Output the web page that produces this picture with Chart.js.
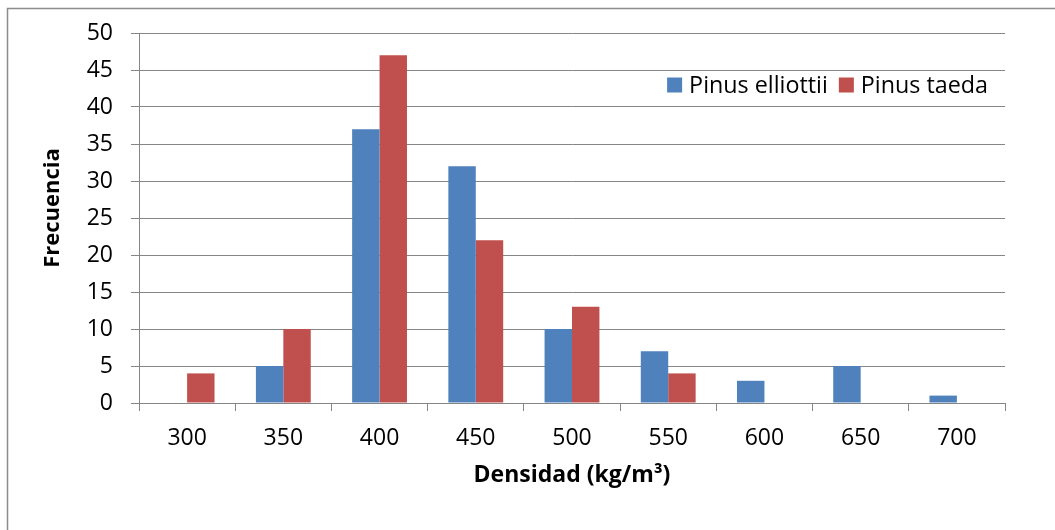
<!DOCTYPE html>
<html>
<head>
<meta charset="utf-8">
<script src="https://cdn.jsdelivr.net/npm/chart.js@4/dist/chart.umd.min.js"></script>
<style>
  html, body { margin: 0; padding: 0; background: #fff; }
  #wrap { position: absolute; left: 0; top: 0; width: 1055px; height: 530px; }
</style>
</head>
<body>
<div id="wrap"><canvas id="c" width="1055" height="530"></canvas></div>
<script>
const categories = ['300', '350', '400', '450', '500', '550', '600', '650', '700'];
const elliottii = [0, 5, 37, 32, 10, 7, 3, 5, 1];
const taeda = [4, 10, 47, 22, 13, 4, 0, 0, 0];
const seriesNames = ['Pinus elliottii', 'Pinus taeda'];
const seriesColors = ['#4F81BD', '#C0504D'];
const yTitle = 'Frecuencia';
const xTitle = 'Densidad (kg/m³)';

const FONT = "'Open Sans', 'Liberation Sans', sans-serif";
const GRID = '#868686';

const frame = {
  id: 'frame',
  beforeDraw(chart) {
    const ctx = chart.ctx;
    ctx.save();
    ctx.fillStyle = '#fff';
    ctx.fillRect(0, 0, chart.width, chart.height);
    ctx.strokeStyle = '#8c8c8c';
    ctx.lineWidth = 1.5;
    ctx.strokeRect(7.5, 8.5, chart.width + 20, chart.height + 20);
    ctx.restore();
  }
};

const yTitlePlugin = {
  id: 'yTitlePlugin',
  afterDraw(chart) {
    const ctx = chart.ctx;
    ctx.save();
    ctx.translate(53, 208);
    ctx.rotate(-Math.PI / 2);
    ctx.font = 'bold 22px ' + FONT;
    ctx.fillStyle = '#000';
    ctx.textAlign = 'center';
    ctx.textBaseline = 'middle';
    ctx.fillText(yTitle, 0, 0);
    ctx.restore();
  }
};

const customLegend = {
  id: 'customLegend',
  afterDraw(chart) {
    const ctx = chart.ctx;
    const area = chart.chartArea;
    ctx.save();
    ctx.font = '23.3px ' + FONT;
    ctx.textBaseline = 'middle';
    const box = 15, gapBox = 7, gapItem = 11;
    const items = chart.data.datasets.map(d => ({ text: d.label, color: d.backgroundColor }));
    let total = 0;
    items.forEach((it, i) => {
      it.w = ctx.measureText(it.text).width;
      total += box + gapBox + it.w + (i < items.length - 1 ? gapItem : 0);
    });
    let x = area.right - 17 - total;
    const yc = area.top + 52;
    items.forEach(it => {
      ctx.fillStyle = it.color;
      ctx.fillRect(x, yc - box / 2, box, box);
      x += box + gapBox;
      ctx.fillStyle = '#000';
      ctx.fillText(it.text, x, yc + 1);
      x += it.w + gapItem;
    });
    ctx.restore();
  }
};

new Chart(document.getElementById('c'), {
  type: 'bar',
  data: {
    labels: categories,
    datasets: [
      { label: seriesNames[0], data: elliottii, backgroundColor: seriesColors[0], borderWidth: 0 },
      { label: seriesNames[1], data: taeda, backgroundColor: seriesColors[1], borderWidth: 0 }
    ]
  },
  options: {
    responsive: false,
    animation: false,
    devicePixelRatio: 1,
    layout: { padding: { left: 37, top: 33, right: 50, bottom: 38 } },
    categoryPercentage: 0.57,
    barPercentage: 1.0,
    plugins: {
      legend: { display: false },
      tooltip: { enabled: false }
    },
    scales: {
      x: {
        afterFit(s) { s.height = 530 - 38 - 403; },
        grid: {
          offset: true,
          drawOnChartArea: false,
          drawTicks: true,
          tickLength: 8,
          color: GRID,
          lineWidth: 1
        },
        border: { color: GRID, width: 1 },
        ticks: { color: '#000', font: { family: FONT, size: 23 }, padding: 14, maxRotation: 0 },
        title: { display: true, text: xTitle, color: '#000', font: { family: FONT, size: 23, weight: 'bold' }, padding: { top: 4, bottom: 3 } }
      },
      y: {
        min: 0,
        max: 50,
        afterFit(s) { s.width = 139 - 37; },
        ticks: { stepSize: 5, color: '#000', font: { family: FONT, size: 23 }, padding: 18 },
        grid: { color: GRID, lineWidth: 1, tickLength: 8, drawTicks: true },
        border: { color: GRID, width: 1 },
        title: { display: false }
      }
    }
  },
  plugins: [frame, yTitlePlugin, customLegend]
});
</script>
</body>
</html>
